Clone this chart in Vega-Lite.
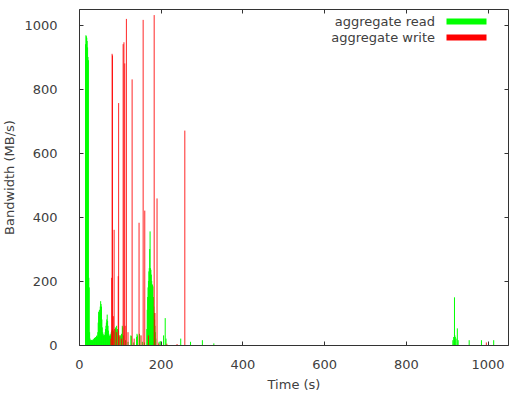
{
  "$schema": "https://vega.github.io/schema/vega-lite/v6.json",
  "autosize": "none",
  "width": 429,
  "height": 336,
  "padding": {"left": 79, "top": 9, "right": 5, "bottom": 48},
  "background": "white",
  "config": {
    "view": {"stroke": "#333333", "strokeWidth": 1},
    "font": "DejaVu Sans",
    "axis": {"grid": false, "domain": false, "tickColor": "#333333", "tickSize": -4, "labelColor": "#404040", "titleColor": "#404040", "labelFontSize": 13, "titleFontSize": 13, "titleFontWeight": "normal", "labelFont": "DejaVu Sans", "titleFont": "DejaVu Sans", "labelFlush": false, "format": "d"}
  },
  "data": {"values": [
    {"t": 16, "v": 940, "s": "aggregate read"},
    {"t": 17, "v": 968, "s": "aggregate read"},
    {"t": 18, "v": 965, "s": "aggregate read"},
    {"t": 19, "v": 960, "s": "aggregate read"},
    {"t": 20, "v": 950, "s": "aggregate read"},
    {"t": 21, "v": 930, "s": "aggregate read"},
    {"t": 22, "v": 900, "s": "aggregate read"},
    {"t": 23, "v": 890, "s": "aggregate read"},
    {"t": 24, "v": 210, "s": "aggregate read"},
    {"t": 25, "v": 180, "s": "aggregate read"},
    {"t": 26, "v": 40, "s": "aggregate read"},
    {"t": 27, "v": 20, "s": "aggregate read"},
    {"t": 28, "v": 15, "s": "aggregate read"},
    {"t": 29, "v": 14, "s": "aggregate read"},
    {"t": 30, "v": 15, "s": "aggregate read"},
    {"t": 31, "v": 16, "s": "aggregate read"},
    {"t": 32, "v": 15, "s": "aggregate read"},
    {"t": 33, "v": 14, "s": "aggregate read"},
    {"t": 34, "v": 16, "s": "aggregate read"},
    {"t": 35, "v": 18, "s": "aggregate read"},
    {"t": 36, "v": 17, "s": "aggregate read"},
    {"t": 37, "v": 20, "s": "aggregate read"},
    {"t": 38, "v": 22, "s": "aggregate read"},
    {"t": 39, "v": 20, "s": "aggregate read"},
    {"t": 40, "v": 24, "s": "aggregate read"},
    {"t": 41, "v": 25, "s": "aggregate read"},
    {"t": 42, "v": 22, "s": "aggregate read"},
    {"t": 43, "v": 28, "s": "aggregate read"},
    {"t": 44, "v": 30, "s": "aggregate read"},
    {"t": 45, "v": 25, "s": "aggregate read"},
    {"t": 46, "v": 40, "s": "aggregate read"},
    {"t": 47, "v": 70, "s": "aggregate read"},
    {"t": 48, "v": 104, "s": "aggregate read"},
    {"t": 49, "v": 90, "s": "aggregate read"},
    {"t": 50, "v": 110, "s": "aggregate read"},
    {"t": 51, "v": 100, "s": "aggregate read"},
    {"t": 52, "v": 120, "s": "aggregate read"},
    {"t": 53, "v": 137, "s": "aggregate read"},
    {"t": 54, "v": 128, "s": "aggregate read"},
    {"t": 55, "v": 120, "s": "aggregate read"},
    {"t": 56, "v": 80, "s": "aggregate read"},
    {"t": 57, "v": 55, "s": "aggregate read"},
    {"t": 58, "v": 40, "s": "aggregate read"},
    {"t": 59, "v": 35, "s": "aggregate read"},
    {"t": 60, "v": 30, "s": "aggregate read"},
    {"t": 61, "v": 28, "s": "aggregate read"},
    {"t": 62, "v": 32, "s": "aggregate read"},
    {"t": 63, "v": 30, "s": "aggregate read"},
    {"t": 64, "v": 40, "s": "aggregate read"},
    {"t": 65, "v": 50, "s": "aggregate read"},
    {"t": 66, "v": 60, "s": "aggregate read"},
    {"t": 67, "v": 70, "s": "aggregate read"},
    {"t": 68, "v": 80, "s": "aggregate read"},
    {"t": 69, "v": 95, "s": "aggregate read"},
    {"t": 70, "v": 75, "s": "aggregate read"},
    {"t": 71, "v": 60, "s": "aggregate read"},
    {"t": 72, "v": 45, "s": "aggregate read"},
    {"t": 73, "v": 35, "s": "aggregate read"},
    {"t": 74, "v": 30, "s": "aggregate read"},
    {"t": 75, "v": 28, "s": "aggregate read"},
    {"t": 76, "v": 25, "s": "aggregate read"},
    {"t": 77, "v": 30, "s": "aggregate read"},
    {"t": 78, "v": 35, "s": "aggregate read"},
    {"t": 79, "v": 40, "s": "aggregate read"},
    {"t": 80, "v": 45, "s": "aggregate read"},
    {"t": 82, "v": 50, "s": "aggregate read"},
    {"t": 84, "v": 45, "s": "aggregate read"},
    {"t": 86, "v": 40, "s": "aggregate read"},
    {"t": 88, "v": 50, "s": "aggregate read"},
    {"t": 89, "v": 55, "s": "aggregate read"},
    {"t": 90, "v": 53, "s": "aggregate read"},
    {"t": 92, "v": 60, "s": "aggregate read"},
    {"t": 94, "v": 50, "s": "aggregate read"},
    {"t": 96, "v": 45, "s": "aggregate read"},
    {"t": 98, "v": 30, "s": "aggregate read"},
    {"t": 100, "v": 25, "s": "aggregate read"},
    {"t": 102, "v": 30, "s": "aggregate read"},
    {"t": 104, "v": 35, "s": "aggregate read"},
    {"t": 106, "v": 60, "s": "aggregate read"},
    {"t": 107, "v": 55, "s": "aggregate read"},
    {"t": 109, "v": 30, "s": "aggregate read"},
    {"t": 114, "v": 15, "s": "aggregate read"},
    {"t": 120, "v": 10, "s": "aggregate read"},
    {"t": 127, "v": 30, "s": "aggregate read"},
    {"t": 128, "v": 28, "s": "aggregate read"},
    {"t": 134, "v": 8, "s": "aggregate read"},
    {"t": 141, "v": 25, "s": "aggregate read"},
    {"t": 142, "v": 35, "s": "aggregate read"},
    {"t": 143, "v": 30, "s": "aggregate read"},
    {"t": 148, "v": 35, "s": "aggregate read"},
    {"t": 149, "v": 30, "s": "aggregate read"},
    {"t": 155, "v": 10, "s": "aggregate read"},
    {"t": 160, "v": 8, "s": "aggregate read"},
    {"t": 166, "v": 50, "s": "aggregate read"},
    {"t": 167, "v": 110, "s": "aggregate read"},
    {"t": 168, "v": 150, "s": "aggregate read"},
    {"t": 169, "v": 180, "s": "aggregate read"},
    {"t": 170, "v": 200, "s": "aggregate read"},
    {"t": 171, "v": 230, "s": "aggregate read"},
    {"t": 172, "v": 240, "s": "aggregate read"},
    {"t": 173, "v": 300, "s": "aggregate read"},
    {"t": 174, "v": 355, "s": "aggregate read"},
    {"t": 175, "v": 240, "s": "aggregate read"},
    {"t": 176, "v": 235, "s": "aggregate read"},
    {"t": 177, "v": 220, "s": "aggregate read"},
    {"t": 178, "v": 200, "s": "aggregate read"},
    {"t": 179, "v": 190, "s": "aggregate read"},
    {"t": 180, "v": 187, "s": "aggregate read"},
    {"t": 181, "v": 183, "s": "aggregate read"},
    {"t": 182, "v": 150, "s": "aggregate read"},
    {"t": 183, "v": 120, "s": "aggregate read"},
    {"t": 184, "v": 100, "s": "aggregate read"},
    {"t": 185, "v": 80, "s": "aggregate read"},
    {"t": 186, "v": 60, "s": "aggregate read"},
    {"t": 187, "v": 40, "s": "aggregate read"},
    {"t": 188, "v": 20, "s": "aggregate read"},
    {"t": 196, "v": 10, "s": "aggregate read"},
    {"t": 199, "v": 12, "s": "aggregate read"},
    {"t": 207, "v": 30, "s": "aggregate read"},
    {"t": 211, "v": 84, "s": "aggregate read"},
    {"t": 213, "v": 20, "s": "aggregate read"},
    {"t": 249, "v": 20, "s": "aggregate read"},
    {"t": 273, "v": 10, "s": "aggregate read"},
    {"t": 302, "v": 15, "s": "aggregate read"},
    {"t": 330, "v": 5, "s": "aggregate read"},
    {"t": 915, "v": 15, "s": "aggregate read"},
    {"t": 917, "v": 25, "s": "aggregate read"},
    {"t": 919, "v": 149, "s": "aggregate read"},
    {"t": 920, "v": 30, "s": "aggregate read"},
    {"t": 921, "v": 25, "s": "aggregate read"},
    {"t": 923, "v": 20, "s": "aggregate read"},
    {"t": 926, "v": 52, "s": "aggregate read"},
    {"t": 928, "v": 15, "s": "aggregate read"},
    {"t": 955, "v": 15, "s": "aggregate read"},
    {"t": 985, "v": 15, "s": "aggregate read"},
    {"t": 1015, "v": 15, "s": "aggregate read"},
    {"t": 78, "v": 20, "s": "aggregate write"},
    {"t": 80, "v": 210, "s": "aggregate write"},
    {"t": 81, "v": 910, "s": "aggregate write"},
    {"t": 82, "v": 905, "s": "aggregate write"},
    {"t": 84, "v": 90, "s": "aggregate write"},
    {"t": 86, "v": 360, "s": "aggregate write"},
    {"t": 88, "v": 50, "s": "aggregate write"},
    {"t": 92, "v": 40, "s": "aggregate write"},
    {"t": 96, "v": 215, "s": "aggregate write"},
    {"t": 97, "v": 756, "s": "aggregate write"},
    {"t": 100, "v": 30, "s": "aggregate write"},
    {"t": 104, "v": 20, "s": "aggregate write"},
    {"t": 108, "v": 940, "s": "aggregate write"},
    {"t": 110, "v": 946, "s": "aggregate write"},
    {"t": 112, "v": 880, "s": "aggregate write"},
    {"t": 113, "v": 60, "s": "aggregate write"},
    {"t": 116, "v": 1019, "s": "aggregate write"},
    {"t": 120, "v": 40, "s": "aggregate write"},
    {"t": 130, "v": 830, "s": "aggregate write"},
    {"t": 135, "v": 20, "s": "aggregate write"},
    {"t": 147, "v": 382, "s": "aggregate write"},
    {"t": 152, "v": 30, "s": "aggregate write"},
    {"t": 157, "v": 1016, "s": "aggregate write"},
    {"t": 161, "v": 420, "s": "aggregate write"},
    {"t": 170, "v": 30, "s": "aggregate write"},
    {"t": 184, "v": 1031, "s": "aggregate write"},
    {"t": 186, "v": 100, "s": "aggregate write"},
    {"t": 191, "v": 458, "s": "aggregate write"},
    {"t": 195, "v": 5, "s": "aggregate write"},
    {"t": 215, "v": 4, "s": "aggregate write"},
    {"t": 240, "v": 3, "s": "aggregate write"},
    {"t": 259, "v": 670, "s": "aggregate write"},
    {"t": 997, "v": 8, "s": "aggregate write"}
  ]},
  "layer": [
    {
      "transform": [{"filter": "datum.s === 'aggregate read'"}],
      "mark": {"type": "rule", "strokeWidth": 1},
      "encoding": {
        "x": {"field": "t", "type": "quantitative", "scale": {"domain": [0, 1050], "nice": false}, "axis": {"orient": "bottom", "values": [0, 200, 400, 600, 800, 1000], "title": "Time (s)", "labelPadding": 17, "titlePadding": 7}},
        "y": {"field": "v", "type": "quantitative", "scale": {"domain": [0, 1050], "nice": false}, "axis": {"orient": "left", "values": [0, 200, 400, 600, 800, 1000], "title": "Bandwidth (MB/s)", "labelPadding": 26, "titlePadding": 7}},
        "y2": {"datum": 0},
        "color": {"field": "s", "type": "nominal", "scale": {"domain": ["aggregate read", "aggregate write"], "range": ["#00ff00", "#ff0000"]},
          "legend": {"title": null, "orient": "none", "legendX": 381, "legendY": 6, "symbolType": "M-4,-0.6L4,-0.6L4,0.6L-4,0.6Z", "symbolSize": 100, "symbolStrokeWidth": 0, "labelAlign": "right", "labelOffset": -38, "labelFontSize": 13, "labelColor": "#404040", "padding": 0, "rowPadding": 2,
            "encode": {"symbols": {"update": {"fill": {"signal": "scale('color', datum.value)"}, "fillOpacity": {"value": 1}, "strokeWidth": {"value": 0}, "opacity": {"value": 1}}}}}}
      }
    },
    {
      "transform": [{"filter": "datum.s === 'aggregate write'"}],
      "mark": {"type": "rule", "strokeWidth": 1, "opacity": 0.85},
      "encoding": {
        "x": {"field": "t", "type": "quantitative", "axis": {"orient": "top", "values": [0, 200, 400, 600, 800, 1000], "labels": false, "title": null}},
        "y": {"field": "v", "type": "quantitative", "axis": {"orient": "right", "values": [0, 200, 400, 600, 800, 1000], "labels": false, "title": null}},
        "y2": {"datum": 0},
        "color": {"field": "s", "type": "nominal"}
      }
    }
  ],
  "resolve": {"axis": {"x": "independent", "y": "independent"}}
}
